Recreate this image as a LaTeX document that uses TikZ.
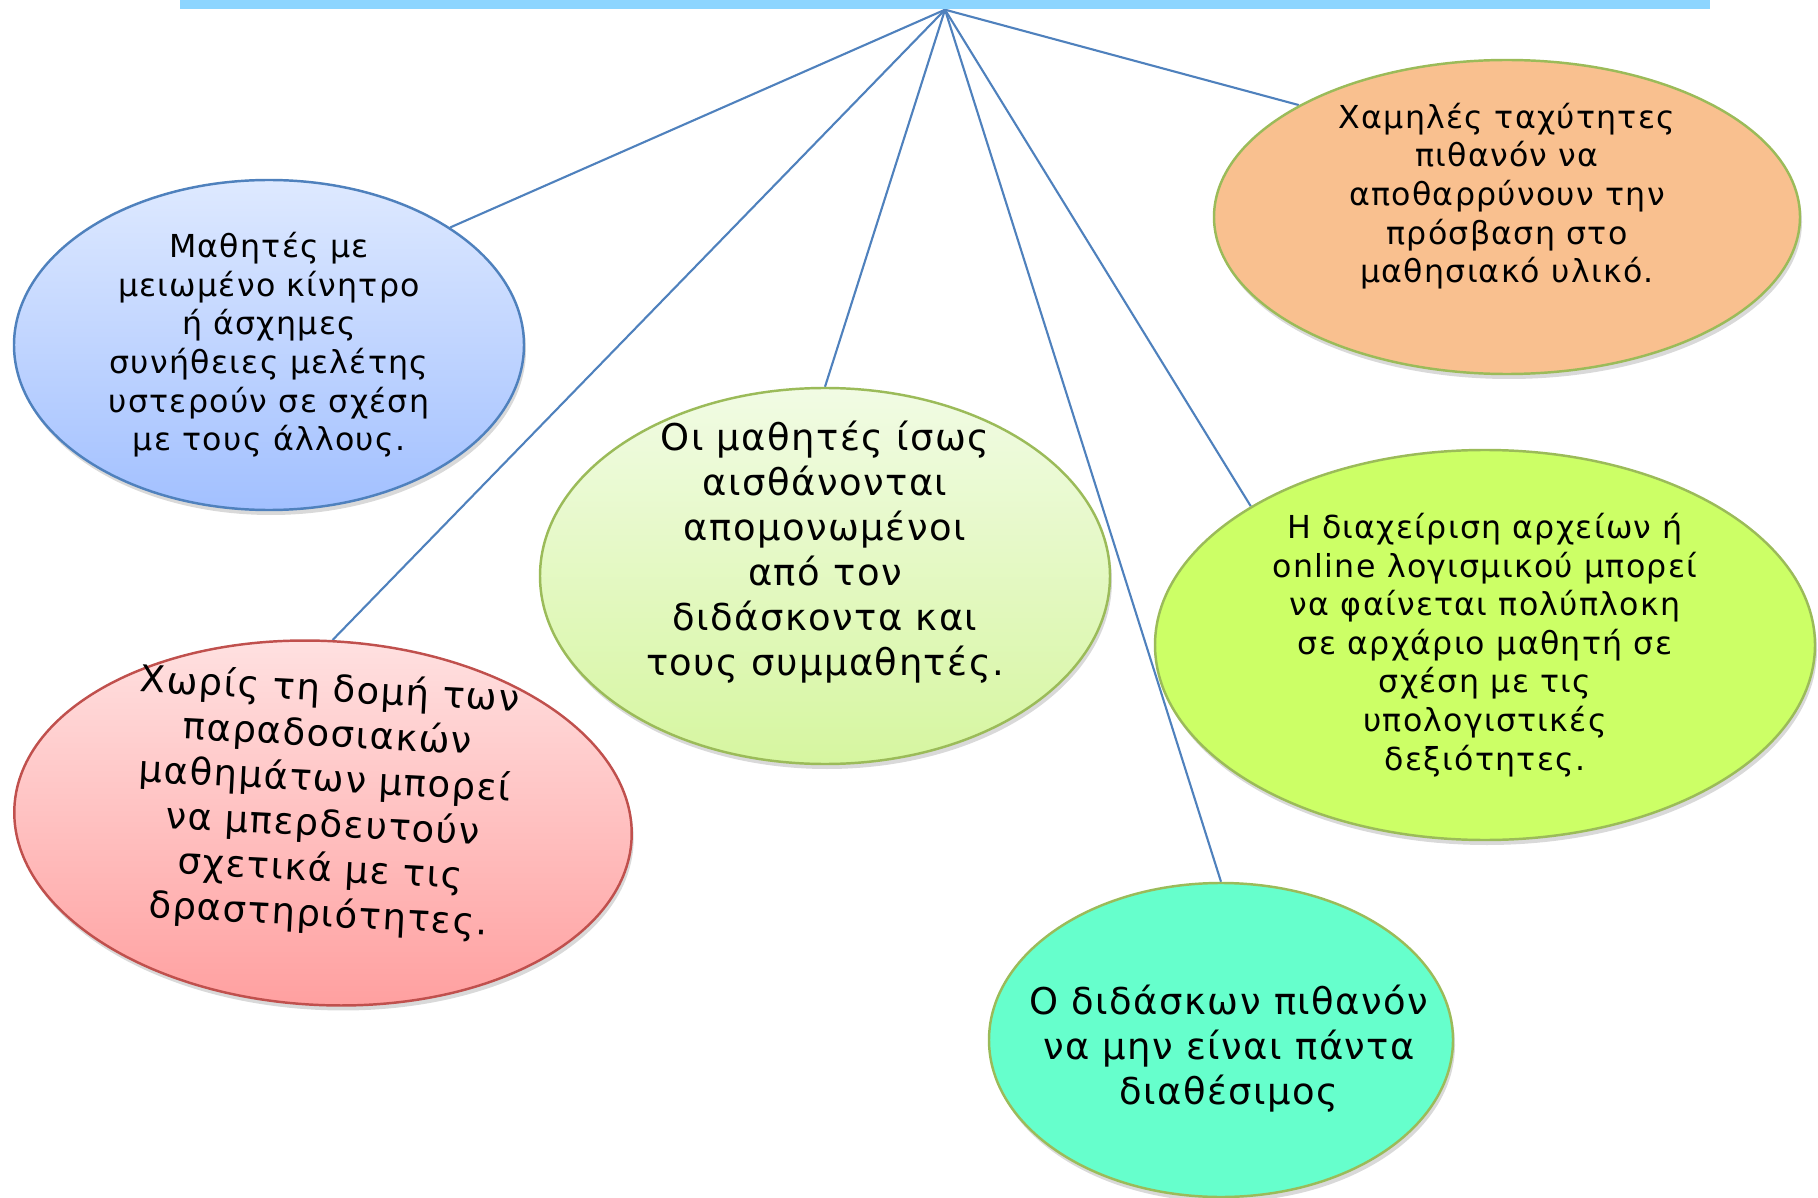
\documentclass[tikz,border=0pt]{standalone}
\usepackage{fontspec}
\newfontfamily\hand[LetterSpace=4]{DejaVu Sans}
\usetikzlibrary{shapes,positioning,calc,shadows,backgrounds}

\definecolor{barblue}{RGB}{141,213,255}
\definecolor{lineblue}{RGB}{79,129,189}
\definecolor{olive}{RGB}{155,187,89}
\definecolor{brick}{RGB}{192,80,77}

\begin{document}
\begin{tikzpicture}[
		% Style definitions
		bubble/.style={
			ellipse,
			draw=olive,
			line width=0.7pt,
			inner sep=0pt,
			drop shadow={opacity=0.3, shadow xshift=0.02cm, shadow yshift=-0.05cm}
		},
		txt/.style={
			align=center,
			inner sep=0pt,
			font=\hand\fontsize{9}{11}\selectfont
		},
		bigtxt/.style={
			txt,
			font=\hand\fontsize{10.5}{12.8}\selectfont
		},
		link/.style={
			draw=lineblue,
			line width=0.6pt
		}
		]
		\useasboundingbox (0,0) rectangle (18.18,11.97);
		
		% Top bar and hub
		\node[fill=barblue, minimum width=15.3cm, minimum height=0.09cm, inner sep=0pt] (bar) at (9.45,11.925) {};
		\coordinate (hub) at (bar.south);
		
		% Bubbles
		\node[bubble, draw=lineblue, top color={rgb,255:red,222;green,233;blue,255}, bottom color={rgb,255:red,162;green,192;blue,255}, minimum width=5.10cm, minimum height=3.30cm] (motiv) at (2.69,8.52) {};
		\node[bubble, top color={rgb,255:red,241;green,251;blue,228}, bottom color={rgb,255:red,214;green,246;blue,160}, minimum width=5.70cm, minimum height=3.76cm] (isol) at (8.25,6.21) {};
		\node[bubble, fill={rgb,255:red,249;green,192;blue,143}, minimum width=5.86cm, minimum height=3.14cm] (speed) at (15.07,9.80) {};
		\node[bubble, draw=brick, top color={rgb,255:red,255;green,226;blue,226}, bottom color={rgb,255:red,255;green,160;blue,160}, minimum width=6.18cm, minimum height=3.64cm, rotate=-3] (struct) at (3.23,3.74) {};
		\node[bubble, fill={rgb,255:red,204;green,255;blue,102}, minimum width=6.60cm, minimum height=3.90cm] (files) at (14.85,5.52) {};
		\node[bubble, fill={rgb,255:red,102;green,255;blue,204}, minimum width=4.64cm, minimum height=3.14cm] (tutor) at (12.21,1.57) {};
		
		% Texts
		\node[txt] (motivT) at (motiv.center) {Μαθητές με\\μειωμένο κίνητρο\\ή άσχημες\\συνήθειες μελέτης\\υστερούν σε σχέση\\με τους άλλους.};
		\node[bigtxt, yshift=0.24cm] (isolT) at (isol.center) {Οι μαθητές ίσως\\αισθάνονται\\απομονωμένοι\\από τον\\διδάσκοντα και\\τους συμμαθητές.};
		\node[txt, yshift=0.21cm] (speedT) at (speed.center) {Χαμηλές ταχύτητες\\πιθανόν να\\αποθαρρύνουν την\\πρόσβαση στο\\μαθησιακό υλικό.};
		\node[bigtxt, rotate=-3, yshift=0.2cm] (structT) at (struct.center) {Χωρίς τη δομή των\\παραδοσιακών\\μαθημάτων μπορεί\\να μπερδευτούν\\σχετικά με τις\\δραστηριότητες.};
		\node[txt] (filesT) at (files.center) {Η διαχείριση αρχείων ή\\online λογισμικού μπορεί\\να φαίνεται πολύπλοκη\\σε αρχάριο μαθητή σε\\σχέση με τις\\υπολογιστικές\\δεξιότητες.};
		\node[bigtxt, xshift=0.08cm, yshift=-0.09cm] (tutorT) at (tutor.center) {Ο διδάσκων πιθανόν\\να μην είναι πάντα\\διαθέσιμος};
		
		% Links from the hub
		\begin{scope}[on background layer]
			\draw[link] (hub) -- (motiv.north east);
			\draw[link] (hub) -- (struct.north);
			\draw[link] (hub) -- (isol.north);
			\draw[link] (hub) -- (tutor.north);
			\draw[link] (hub) -- (files.north west);
			\draw[link] (hub) -- (speed.north west);
		\end{scope}
		
	\end{tikzpicture}
\end{document}
